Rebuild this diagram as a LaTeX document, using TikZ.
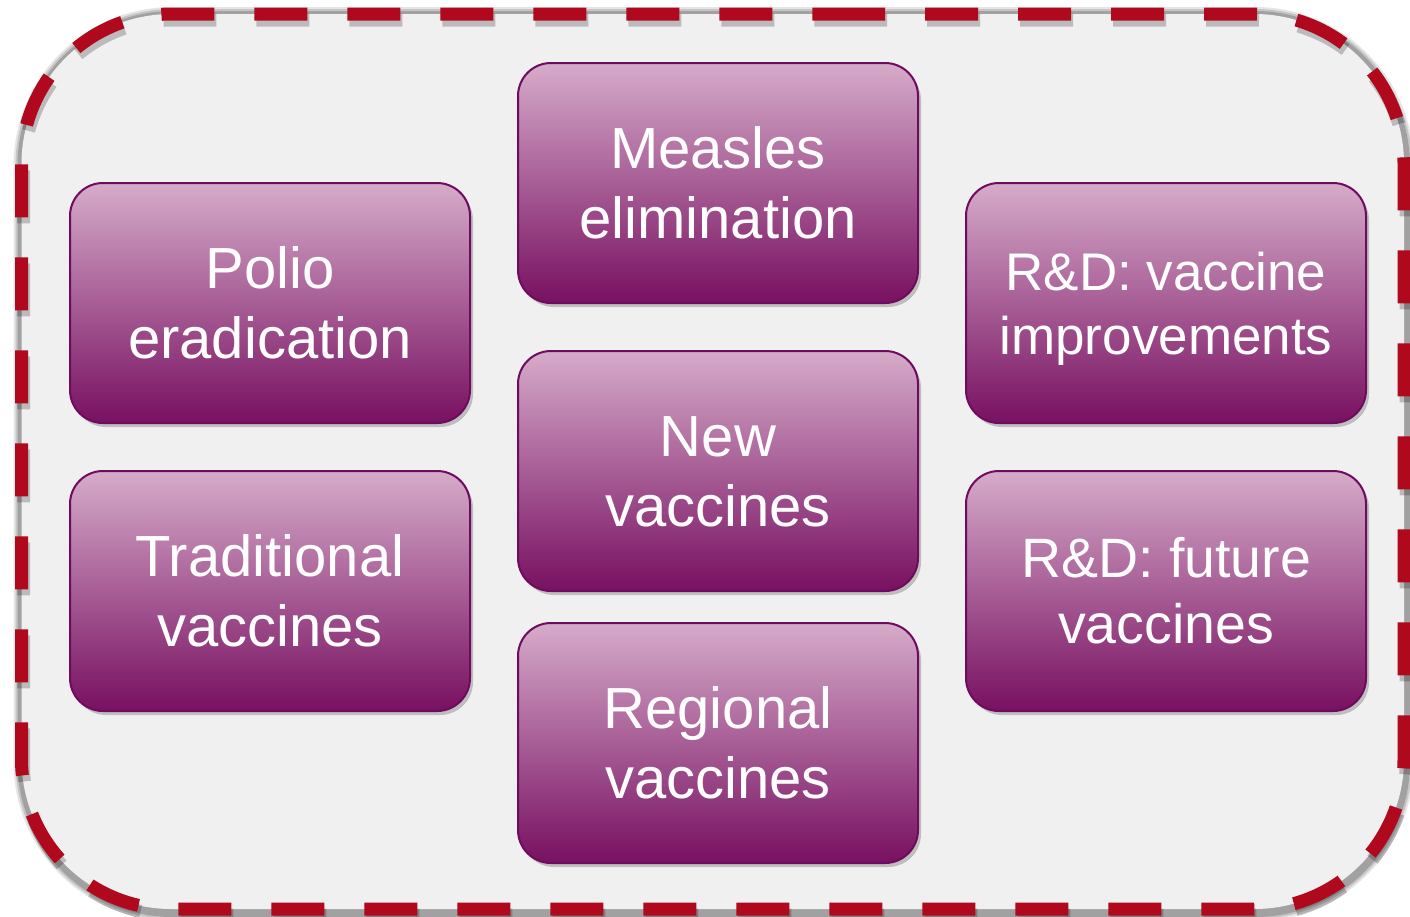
\documentclass[tikz,border=0pt]{standalone}
\usepackage{fontspec}
\setmainfont{Liberation Sans}
\usetikzlibrary{shadows}
\definecolor{outerred}{HTML}{B0081C}
\definecolor{bgfill}{HTML}{F0F0F0}
\definecolor{boxtop}{HTML}{D6ABCA}
\definecolor{boxmid}{HTML}{B283A6}
\definecolor{boxbot}{HTML}{781061}
\definecolor{boxline}{HTML}{6E0B5E}
\tikzset{
  vbox/.style={rounded corners=33pt, minimum width=400pt, minimum height=240pt,
    inner sep=0pt, top color=boxtop, middle color=boxmid, bottom color=boxbot,
    draw=boxline, line width=2pt,
    text=white, align=center,
    font=\fontsize{58}{70}\selectfont,
    drop shadow={shadow xshift=3pt, shadow yshift=-4pt, opacity=0.3, fill=black!70}},
  outerpath/.style={rounded corners=150pt},
}
\newcommand{\firstln}[2][41.5pt]{\rule{0pt}{#1}\smash{#2}}
\newcommand{\lastln}[1]{\smash{#1}}
\begin{document}
\begin{tikzpicture}[x=1pt,y=-1pt]
\useasboundingbox (0,0) rectangle (1410,916);
% outer shadow glow
\foreach \w/\o in {18/0.10,14/0.14,10/0.18} {
  \draw[outerpath, line width=\w pt, black, opacity=\o]
    (701,16) -- (1405,16) -- (1405,912) -- (22.5,912) -- (22.5,16) -- cycle;
}
% outer fill
\fill[outerpath, bgfill]
  (700,14) -- (1404,14) -- (1404,909) -- (21.5,909) -- (21.5,14) -- cycle;
% dashed shadow
\draw[outerpath, line width=13pt, black, opacity=0.22, dash pattern=on 53pt off 40pt, dash phase=18pt]
  (702,20) -- (1406,20) -- (1406,915) -- (23.5,915) -- (23.5,20) -- cycle;
% dashed border
\draw[outerpath, line width=13pt, outerred, dash pattern=on 53pt off 40pt, dash phase=18pt]
  (700,14) -- (1404,14) -- (1404,909) -- (21.5,909) -- (21.5,14) -- cycle;
% boxes
\node[vbox] (polio) at (270,303) {\firstln{Polio}\\\lastln{eradication}};
\node[vbox] (trad) at (270,591) {\firstln{Traditional}\\\lastln{vaccines}};
\node[vbox] (measles) at (718,183) {\firstln{Measles}\\\lastln{elimination}};
\node[vbox] (new) at (718,471) {\firstln{New}\\\lastln{vaccines}};
\node[vbox] (regional) at (718,743) {\firstln{Regional}\\\lastln{vaccines}};
\node[vbox, font=\fontsize{53}{64}\selectfont] (rdimp) at (1166,303)
  {\firstln[38pt]{R\&D: vaccine}\\\lastln{improvements}};
\node[vbox, font=\fontsize{55.5}{66}\selectfont] (rdfut) at (1166,591)
  {\firstln[39.7pt]{R\&D: future}\\\lastln{vaccines}};
\end{tikzpicture}
\end{document}
